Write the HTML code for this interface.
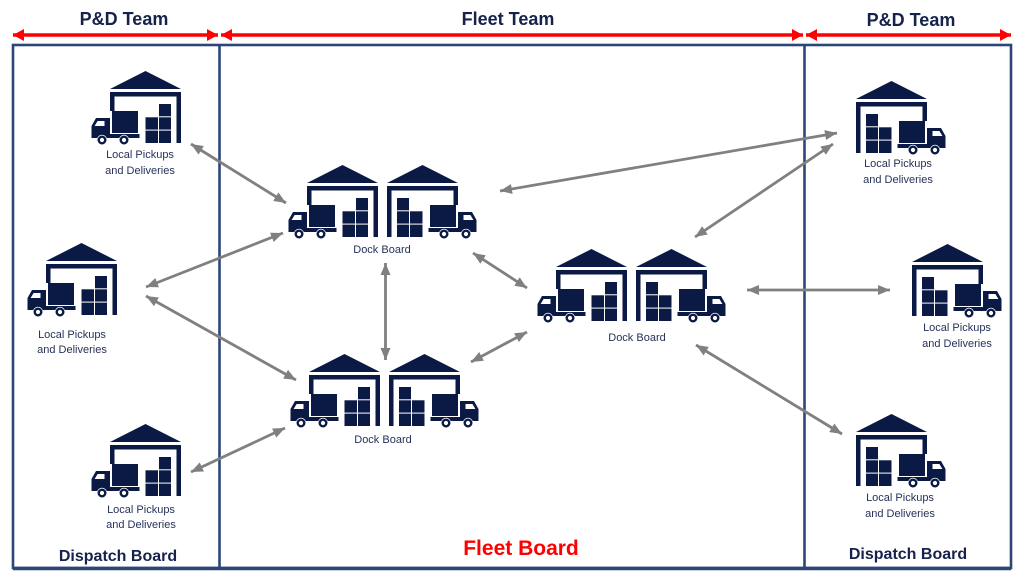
<!DOCTYPE html>
<html><head><meta charset="utf-8"><style>
html,body{margin:0;padding:0;background:#fff;}
svg{display:block;}
text{font-family:"Liberation Sans",Arial,sans-serif;}
</style></head><body>
<svg width="1024" height="576" viewBox="0 0 1024 576" xmlns="http://www.w3.org/2000/svg">
<defs>
  <marker id="ga" viewBox="0 0 12 10" refX="12" refY="5" markerWidth="12" markerHeight="10" markerUnits="userSpaceOnUse" orient="auto-start-reverse">
    <path d="M0,0 L12,5 L0,10 Z" fill="#808080"/>
  </marker>
  <marker id="ra" viewBox="0 0 11 12" refX="11" refY="6" markerWidth="11" markerHeight="12" markerUnits="userSpaceOnUse" orient="auto-start-reverse">
    <path d="M0,0 L11,6 L0,12 Z" fill="#ff0000"/>
  </marker>
  <g id="wa" fill="#0b1a45">
    <polygon points="19,18 54.5,0 90,18"/>
    <rect x="19" y="21" width="71" height="4.5"/>
    <rect x="19" y="21" width="4.5" height="19"/>
    <rect x="85.5" y="21" width="4.5" height="51"/>
    <rect x="21" y="40" width="26" height="22"/>
    <path d="M0.5,67 V55 L5,47 H19 V67 Z"/>
    <path d="M3.6,55 L6.6,50 H13.5 V55 Z" fill="#fff"/>
    <rect x="0.5" y="63" width="48" height="4"/>
    <circle cx="11" cy="69" r="5.2" fill="#fff"/>
    <circle cx="11" cy="69" r="3.3" fill="none" stroke="#0b1a45" stroke-width="2.4"/>
    <circle cx="33" cy="69" r="5.2" fill="#fff"/>
    <circle cx="33" cy="69" r="3.3" fill="none" stroke="#0b1a45" stroke-width="2.4"/>
    <rect x="68" y="33" width="12" height="12.3"/>
    <rect x="68" y="46.3" width="12" height="12.3"/>
    <rect x="68" y="59.6" width="12" height="12.4"/>
    <rect x="54.5" y="46.3" width="12.5" height="12.3"/>
    <rect x="54.5" y="59.6" width="12.5" height="12.4"/>
  </g>
</defs>

<!-- frame -->
<rect x="13" y="45" width="998" height="523" fill="none" stroke="#2c4677" stroke-width="2.6"/>
<line x1="13" y1="568.5" x2="1011" y2="568.5" stroke="#2c4677" stroke-width="3.5"/>
<line x1="219.5" y1="45" x2="219.5" y2="568" stroke="#2c4677" stroke-width="2.6"/>
<line x1="804.5" y1="45" x2="804.5" y2="568" stroke="#2c4677" stroke-width="2.6"/>

<!-- red arrows -->
<g stroke="#ff0000" stroke-width="3.5" marker-start="url(#ra)" marker-end="url(#ra)">
  <line x1="13" y1="35" x2="218" y2="35"/>
  <line x1="221" y1="35" x2="803" y2="35"/>
  <line x1="806" y1="35" x2="1011" y2="35"/>
</g>

<!-- headers -->
<g font-weight="bold" font-size="18" fill="#16224a" text-anchor="middle">
  <text x="124" y="25">P&amp;D Team</text>
  <text x="508" y="25">Fleet Team</text>
  <text x="911" y="26">P&amp;D Team</text>
</g>

<!-- gray arrows -->
<g stroke="#808080" stroke-width="2.8" marker-start="url(#ga)" marker-end="url(#ga)">
  <line x1="191" y1="144" x2="286" y2="203"/>
  <line x1="146" y1="287" x2="283" y2="233"/>
  <line x1="146" y1="296" x2="296" y2="380"/>
  <line x1="191" y1="472" x2="285" y2="428"/>
  <line x1="385.5" y1="263" x2="385.5" y2="360"/>
  <line x1="473" y1="253" x2="527" y2="288"/>
  <line x1="471" y1="362" x2="527" y2="332"/>
  <line x1="500" y1="191" x2="837" y2="133"/>
  <line x1="695" y1="237" x2="833" y2="144"/>
  <line x1="747" y1="290" x2="890" y2="290"/>
  <line x1="696" y1="345" x2="842" y2="434"/>
</g>

<!-- local icons (left) -->
<use href="#wa" transform="translate(91,71)"/>
<use href="#wa" transform="translate(27,243)"/>
<use href="#wa" transform="translate(91,424)"/>
<!-- local icons (right, mirrored) -->
<use href="#wa" transform="translate(946,81) scale(-1,1)"/>
<use href="#wa" transform="translate(1002,244) scale(-1,1)"/>
<use href="#wa" transform="translate(946,414) scale(-1,1)"/>

<!-- dock boards -->
<use href="#wa" transform="translate(288,165)"/>
<use href="#wa" transform="translate(477,165) scale(-1,1)"/>
<use href="#wa" transform="translate(290,354)"/>
<use href="#wa" transform="translate(479,354) scale(-1,1)"/>
<use href="#wa" transform="translate(537,249)"/>
<use href="#wa" transform="translate(726,249) scale(-1,1)"/>

<!-- labels -->
<g font-size="11" fill="#26325a" text-anchor="middle">
  <text x="140" y="158">Local Pickups</text>
  <text x="140" y="174">and Deliveries</text>
  <text x="72" y="338">Local Pickups</text>
  <text x="72" y="353">and Deliveries</text>
  <text x="141" y="513">Local Pickups</text>
  <text x="141" y="528">and Deliveries</text>
  <text x="898" y="167">Local Pickups</text>
  <text x="898" y="183">and Deliveries</text>
  <text x="957" y="331">Local Pickups</text>
  <text x="957" y="347">and Deliveries</text>
  <text x="900" y="501">Local Pickups</text>
  <text x="900" y="517">and Deliveries</text>
  <text x="382" y="253">Dock Board</text>
  <text x="383" y="443">Dock Board</text>
  <text x="637" y="341">Dock Board</text>
</g>

<!-- bottom titles -->
<g font-weight="bold" text-anchor="middle">
  <text x="118" y="561" font-size="16" fill="#16224a">Dispatch Board</text>
  <text x="908" y="559" font-size="16" fill="#16224a">Dispatch Board</text>
  <text x="521" y="555" font-size="21" fill="#ff0000">Fleet Board</text>
</g>
</svg>
</body></html>
